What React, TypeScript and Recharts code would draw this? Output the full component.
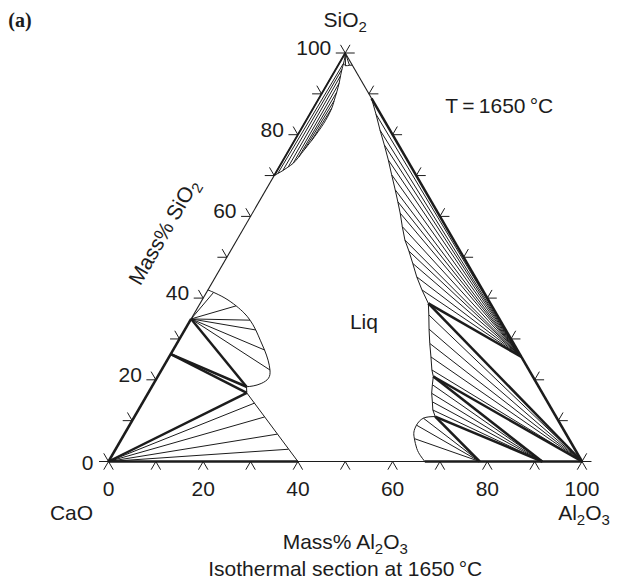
import React from 'react';
import { ComposedChart, Line, XAxis, YAxis, ReferenceDot } from 'recharts';

// Every composition is [mass% Al2O3, mass% SiO2]; CaO is the remainder.
type Comp = [number, number];

// Corners and solid compounds
const CAO: Comp = [0, 0];
const AL2O3: Comp = [100, 0];
const SIO2: Comp = [0, 100];
const C3S: Comp = [0, 26.3];
const C2S: Comp = [0, 34.9];
const CA2: Comp = [78.4, 0];
const CA6: Comp = [91.6, 0];
const MULLITE: Comp = [74.4, 25.6];

// Liquid corners of the three-phase triangles and binary liquid limits
const L_CAO_C3S: Comp = [20.8, 16.8];
const L_C3S_C2S: Comp = [20.0, 18.3];
const L_MUL_COR: Comp = [48.2, 38.7];
const L_COR_CA6: Comp = [58.2, 20.8];
const L_CA6_CA2: Comp = [63.5, 11.0];
const LIQ_CA_BIN: Comp = [40, 0];
const LIQ_CA2_BIN: Comp = [66.8, 0];
const LIQ_AS_BIN: Comp = [11.1, 88.9];

const axisTicks = [0, 10, 20, 30, 40, 50, 60, 70, 80, 90, 100];
const tickLabels = [0, 20, 40, 60, 80, 100];

// Liquidus boundaries
const liqC2S: Comp[] = [
  [0, 42], [1.5, 41.4], [4.6, 40.0], [7.9, 38.1], [10.4, 36.4], [12.6, 34.6], [15.0, 32.2],
  [17.2, 29.7], [19.3, 27.3], [21.3, 24.8], [22.9, 22.4], [23.6, 20.4], [22.7, 19.1],
  [21.3, 18.5], [20.0, 18.3],
];
const liqCaO: Comp[] = [L_C3S_C2S, L_CAO_C3S, LIQ_CA_BIN];
const liqMullite: Comp[] = [
  [11.1, 88.9], [14.0, 85.0], [16.8, 81.1], [19.5, 77.5], [22.2, 73.8], [24.7, 70.2],
  [27.3, 66.5], [29.3, 63.6], [31.2, 60.8], [33.3, 57.5], [35.5, 54.2], [37.7, 51.5],
  [40.0, 48.5], [42.5, 45.2], [45.2, 42.0], [48.2, 38.7],
];
const liqCorundum: Comp[] = [
  [48.2, 38.7], [49.7, 35.9], [51.5, 32.4], [53.4, 28.9], [55.3, 25.6], [57.1, 22.4], [58.2, 20.8],
];
const liqCA6: Comp[] = [[58.2, 20.8], [59.0, 18.8], [59.9, 16.7], [61.1, 14.6], [62.2, 12.6], [63.5, 11.0]];
const liqCA2: Comp[] = [
  [63.5, 11.0], [61.2, 10.6], [60.6, 8.9], [60.9, 7.2], [61.8, 5.6], [63.5, 3.2], [65.2, 1.4], [66.8, 0],
];
const lensSiO2: Comp[] = [
  [0, 70], [0.5, 70.5], [1.2, 71.2], [1.9, 72.1], [2.5, 73.0], [2.9, 74.5], [3.2, 76.3],
  [3.6, 78.5], [3.9, 80.7], [4.1, 83.5], [3.9, 86.5], [3.5, 88.3], [3.0, 90.4], [2.4, 92.6],
  [1.8, 94.4], [1.3, 96.0], [0.9, 97.5], [0.5, 98.8], [0, 100],
];
const liqApex: Comp[] = [[0.9, 97.5], [1.6, 96.9], [2.4, 97.0], [3.0, 97.0]];

// Tie-line ends on the liquidus
const tiesCaO: Comp[] = [[23.7, 14.3], [27.5, 10.9], [32.3, 6.7], [36.5, 3.0]];
const tiesC2S: Comp[] = [[1.5, 41.4], [7.9, 38.1], [12.6, 34.6], [15.0, 32.2], [19.3, 27.3], [22.9, 22.4]];
const tiesMullite: Comp[] = liqMullite.slice(1, -1);
const tiesCorundum: Comp[] = [[49.7, 35.9], [51.5, 32.4], [53.4, 28.9], [55.3, 25.6], [57.1, 22.4]];
const tiesCA6: Comp[] = [[59.0, 18.8], [59.9, 16.7], [61.1, 14.6], [62.2, 12.6]];
const tiesCA2: Comp[] = [[61.2, 10.6], [60.6, 8.9], [61.8, 5.6]];
const tiesApex: Comp[] = [[1.6, 96.9], [2.4, 97.0]];
const tiesLens: [Comp, Comp][] = [
  [[0.5, 70.5], [0.9, 97.5]],
  [[1.2, 71.2], [1.3, 96.0]],
  [[1.9, 72.1], [1.8, 94.4]],
  [[2.5, 73.0], [2.4, 92.6]],
  [[2.9, 74.5], [3.0, 90.4]],
  [[3.2, 76.3], [3.5, 88.3]],
  [[3.6, 78.5], [3.9, 86.5]],
];

const TICK = 2;
const INK = '#1c1c1c';
const FONT = "'Liberation Sans', Arial, Helvetica, sans-serif";
const FS = 21;

// ternary composition -> cartesian (x along the CaO–Al2O3 side, y = SiO2)
const toXY = ([a, s]: Comp) => ({ x: a + s / 2, y: s });

type Seg = { pts: Comp[]; w: number; curve?: boolean };

const buildSegments = (): Seg[] => {
  const segs: Seg[] = [];
  const thin = 1;
  const bold = 2.5;

  // triangle outline
  segs.push({ pts: [CAO, AL2O3], w: 1.1 });
  segs.push({ pts: [CAO, SIO2], w: 1.1 });
  segs.push({ pts: [AL2O3, SIO2], w: 1.1 });

  // tick marks along the grid directions
  axisTicks.forEach((v) => {
    segs.push({ pts: [[v, 0], [v, -TICK]], w: thin });
    segs.push({ pts: [[v, 0], [v + TICK, -TICK]], w: thin });
    segs.push({ pts: [[0, v], [-TICK, v]], w: thin });
    segs.push({ pts: [[0, v], [-TICK, v + TICK]], w: thin });
    const a = 100 - v;
    segs.push({ pts: [[a, v], [a + TICK, v]], w: thin });
    segs.push({ pts: [[a, v], [a, v + TICK]], w: thin });
  });

  // liquidus curves
  segs.push({ pts: liqC2S, w: thin, curve: true });
  segs.push({ pts: liqCaO, w: thin });
  segs.push({ pts: liqMullite, w: thin });
  segs.push({ pts: liqCorundum, w: thin });
  segs.push({ pts: liqCA6, w: thin });
  segs.push({ pts: liqCA2, w: thin, curve: true });
  segs.push({ pts: lensSiO2, w: thin, curve: true });
  segs.push({ pts: liqApex, w: thin, curve: true });

  // two-phase tie lines
  tiesCaO.forEach((p) => segs.push({ pts: [CAO, p], w: thin }));
  tiesC2S.forEach((p) => segs.push({ pts: [C2S, p], w: thin }));
  tiesMullite.forEach((p) => segs.push({ pts: [p, MULLITE], w: thin }));
  tiesCorundum.forEach((p) => segs.push({ pts: [p, AL2O3], w: thin }));
  tiesCA6.forEach((p) => segs.push({ pts: [p, CA6], w: thin }));
  tiesCA2.forEach((p) => segs.push({ pts: [p, CA2], w: thin }));
  tiesApex.forEach((p) => segs.push({ pts: [SIO2, p], w: thin }));
  tiesLens.forEach(([p, q]) => segs.push({ pts: [p, q], w: thin }));

  // binary tie lines on the sides and three-phase triangle edges
  segs.push({ pts: [CAO, LIQ_CA_BIN], w: bold });
  segs.push({ pts: [LIQ_CA2_BIN, AL2O3], w: bold });
  segs.push({ pts: [CAO, C2S], w: bold });
  segs.push({ pts: [[0, 70], SIO2], w: 1.8 });
  segs.push({ pts: [AL2O3, MULLITE], w: bold });
  segs.push({ pts: [MULLITE, LIQ_AS_BIN], w: bold });
  segs.push({ pts: [CAO, L_CAO_C3S], w: bold });
  segs.push({ pts: [C3S, L_CAO_C3S], w: bold });
  segs.push({ pts: [C3S, L_C3S_C2S], w: bold });
  segs.push({ pts: [C2S, L_C3S_C2S], w: bold });
  segs.push({ pts: [L_MUL_COR, MULLITE], w: bold });
  segs.push({ pts: [L_MUL_COR, AL2O3], w: bold });
  segs.push({ pts: [L_COR_CA6, AL2O3], w: bold });
  segs.push({ pts: [L_COR_CA6, CA6], w: bold });
  segs.push({ pts: [L_CA6_CA2, CA6], w: bold });
  segs.push({ pts: [L_CA6_CA2, CA2], w: bold });
  return segs;
};

const Sub = ({ children }: { children: React.ReactNode }) => (
  <tspan fontSize={15} dy={5}>
    {children}
  </tspan>
);

const textStyle = { fontFamily: FONT, fontSize: FS, fill: INK } as const;

const labelAt = (key: string, at: Comp, dx: number, dy: number, node: React.ReactElement) => {
  const p = toXY(at);
  return (
    <ReferenceDot
      key={key}
      x={p.x}
      y={p.y}
      r={0}
      ifOverflow="visible"
      shape={(props: any) => (
        <g transform={`translate(${props.cx + dx},${props.cy + dy})`}>{node}</g>
      )}
    />
  );
};

export default function App() {
  const segs = buildSegments();

  const labels: React.ReactElement[] = [];
  tickLabels.forEach((v) => {
    labels.push(
      labelAt(`b${v}`, [v, 0], 0, 34, (
        <text textAnchor="middle" {...textStyle}>{v}</text>
      )),
    );
    labels.push(
      labelAt(`l${v}`, [0, v], v === 0 ? -15 : -14, v === 0 ? 8 : 2, (
        <text textAnchor="end" {...textStyle}>{v}</text>
      )),
    );
  });

  labels.push(
    labelAt('apex', SIO2, 0, -26, (
      <text textAnchor="middle" {...textStyle}>SiO<Sub>2</Sub></text>
    )),
  );
  labels.push(
    labelAt('cao', CAO, -37, 58, (
      <text textAnchor="middle" {...textStyle}>CaO</text>
    )),
  );
  labels.push(
    labelAt('al', AL2O3, 2, 58, (
      <text textAnchor="middle" {...textStyle}>
        Al<Sub>2</Sub><tspan dy={-5}>O</tspan><Sub>3</Sub>
      </text>
    )),
  );
  labels.push(
    labelAt('xt', [50, 0], 0, 87, (
      <text textAnchor="middle" {...textStyle}>
        Mass% Al<Sub>2</Sub><tspan dy={-5}>O</tspan><Sub>3</Sub>
      </text>
    )),
  );
  labels.push(
    labelAt('cap', [50, 0], 0, 114, (
      <text textAnchor="middle" {...textStyle}>Isothermal section at 1650{'\u2009'}°C</text>
    )),
  );
  labels.push(
    labelAt('yt', [0, 55], -75, -5, (
      <text textAnchor="middle" y={7} transform="rotate(-60)" {...textStyle}>
        Mass% SiO<Sub>2</Sub>
      </text>
    )),
  );
  labels.push(
    labelAt('temp', SIO2, 100, 60, (
      <text textAnchor="start" {...textStyle}>T{'\u2009'}={'\u2009'}1650{'\u2009'}°C</text>
    )),
  );
  labels.push(
    labelAt('liq', [36.9, 34.1], 0, 7, (
      <text textAnchor="middle" {...textStyle}>Liq</text>
    )),
  );
  labels.push(
    labelAt('panel', SIO2, -337, -26, (
      <text textAnchor="start" fontFamily="'Liberation Serif', 'Times New Roman', serif" fontWeight="bold" fontSize={20} fill={INK}>
        (a)
      </text>
    )),
  );

  return (
    <div style={{ position: 'absolute', left: 0, top: 0, width: 639, height: 580, background: '#fff' }}>
      <ComposedChart width={639} height={580} margin={{ top: 12.15, right: 9.65, bottom: 36.8, left: 13.8 }}>
        <XAxis type="number" dataKey="x" domain={[-20, 110]} hide allowDataOverflow />
        <YAxis type="number" dataKey="y" domain={[-20, 110]} hide allowDataOverflow />
        {segs.map((sg, i) => (
          <Line
            key={`s${i}`}
            data={sg.pts.map(toXY)}
            dataKey="y"
            type={sg.curve ? 'natural' : 'linear'}
            stroke={INK}
            strokeWidth={sg.w}
            strokeLinejoin="round"
            dot={false}
            activeDot={false}
            legendType="none"
            isAnimationActive={false}
          />
        ))}
        {labels}
      </ComposedChart>
    </div>
  );
}
